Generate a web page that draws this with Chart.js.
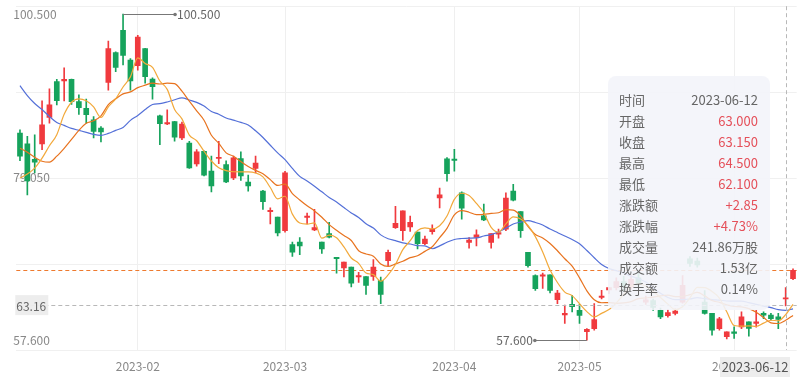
<!DOCTYPE html>
<html>
<head>
<meta charset="utf-8">
<script src="https://cdn.jsdelivr.net/npm/chart.js@4.4.0/dist/chart.umd.min.js"></script>
<style>
  html, body { margin: 0; padding: 0; background: #fff; }
  #wrap { width: 804px; height: 383px; }
</style>
</head>
<body>
<div id="wrap"><canvas id="kline" width="804" height="383"></canvas></div>
<script>
// trading days shown on the category axis
const janDays = [3, 4, 5, 6, 9, 10, 11, 12, 13, 16, 17, 18, 19, 20, 30, 31];
const febDays = [1, 2, 3, 6, 7, 8, 9, 10, 13, 14, 15, 16, 17, 20, 21, 22, 23, 24, 27, 28];
const marDays = [1, 2, 3, 6, 7, 8, 9, 10, 13, 14, 15, 16, 17, 20, 21, 22, 23, 24, 27, 28, 29, 30, 31];
const aprDays = [3, 4, 6, 7, 10, 11, 12, 13, 17, 18, 19, 20, 21, 24, 25, 27, 28];
const mayDays = [4, 5, 6, 8, 9, 10, 11, 12, 15, 16, 17, 18, 19, 22, 23, 24, 25, 26, 29, 30, 31];
const junDays = [1, 2, 5, 6, 7, 8, 9, 12, 13];

const openP = [
  84.85, 83.41, 81.40, 83.41, 86.89, 91.61, 91.70, 91.90, 88.99, 88.10,
  86.60, 85.50, 91.52, 95.44, 98.37, 94.44, 93.70, 95.96, 91.95, 87.12,
  86.05, 86.37, 84.20, 83.54, 80.79, 82.45, 79.83, 81.50, 80.70, 78.95,
  81.49, 78.40, 80.20, 77.22, 74.50, 73.80, 71.99, 70.15, 70.50, 73.75,
  72.10, 70.50, 71.60, 68.50, 67.10, 67.20, 65.90, 65.96, 65.97, 65.45,
  68.06, 72.40, 71.99, 72.50, 71.80, 70.30, 71.85, 76.30, 81.45, 81.40,
  76.99, 70.45, 71.10, 73.95, 70.45, 71.55, 72.20, 77.20, 74.50, 69.15,
  66.10, 66.00, 66.20, 62.90, 60.90, 62.30, 61.50, 58.70, 59.10, 63.20,
  64.20, 64.50, 65.30, 64.60, 65.80, 62.60, 62.80, 61.50, 60.80, 61.10,
  62.60, 68.30, 68.00, 62.60, 61.10, 59.10, 58.03, 58.68, 59.34, 59.99,
  59.78, 61.10, 60.87, 60.65, 63.00, 65.67
];
const closeP = [
  81.80, 78.53, 81.00, 85.94, 88.56, 89.12, 91.90, 88.99, 88.20, 87.25,
  85.07, 84.98, 95.95, 93.48, 95.07, 91.70, 97.49, 92.26, 90.95, 86.07,
  86.20, 84.30, 86.02, 80.27, 82.36, 79.30, 77.87, 81.60, 78.40, 81.57,
  79.20, 77.87, 80.90, 75.82, 74.60, 71.70, 79.60, 69.15, 70.00, 73.90,
  72.40, 69.60, 71.15, 68.30, 67.85, 65.10, 66.10, 64.80, 67.20, 63.60,
  69.15, 72.95, 74.60, 73.10, 70.30, 70.90, 72.20, 76.70, 79.50, 81.25,
  74.95, 70.75, 71.45, 73.40, 71.60, 71.75, 76.30, 76.00, 71.99, 67.40,
  64.35, 66.20, 64.14, 63.78, 61.10, 62.00, 60.85, 59.00, 60.30, 63.40,
  64.50, 65.30, 64.60, 65.60, 65.00, 62.90, 61.90, 60.65, 61.20, 61.40,
  64.80, 67.70, 67.50, 61.10, 58.90, 60.40, 58.68, 58.47, 60.65, 59.13,
  59.99, 60.87, 60.40, 60.30, 63.15, 66.76
];
const highP = [
  85.27, 84.40, 84.60, 89.08, 90.65, 91.90, 93.43, 91.95, 89.87, 89.30,
  87.00, 85.70, 96.94, 95.53, 100.50, 94.65, 97.71, 96.00, 92.10, 87.20,
  87.90, 86.40, 86.30, 83.76, 82.67, 82.50, 81.80, 83.76, 81.20, 81.80,
  82.36, 79.30, 81.80, 77.30, 75.00, 73.80, 79.80, 70.50, 71.10, 74.30,
  74.80, 70.50, 73.10, 68.50, 67.85, 67.20, 66.50, 65.96, 68.20, 65.90,
  69.45, 75.20, 74.60, 73.90, 71.80, 71.30, 72.75, 77.60, 81.60, 82.70,
  77.10, 71.10, 72.10, 75.50, 71.60, 72.20, 76.99, 78.10, 74.50, 69.15,
  66.20, 66.40, 66.20, 64.14, 62.20, 63.50, 62.30, 59.10, 62.40, 64.14,
  64.50, 65.80, 66.00, 66.20, 66.40, 63.40, 63.00, 61.80, 61.60, 61.70,
  66.10, 68.60, 68.40, 64.10, 61.10, 60.60, 58.68, 59.35, 61.30, 59.99,
  61.52, 61.30, 61.10, 61.10, 64.50, 66.98
];
const lowP = [
  81.22, 76.70, 79.60, 82.67, 86.15, 88.56, 89.08, 88.60, 87.30, 86.15,
  84.20, 83.67, 90.50, 92.91, 93.80, 90.50, 93.13, 91.40, 89.30, 83.30,
  85.95, 83.76, 83.96, 80.20, 80.50, 79.20, 77.10, 80.80, 78.30, 78.70,
  78.60, 77.20, 79.60, 74.80, 72.90, 71.30, 71.80, 68.60, 68.85, 72.90,
  71.99, 69.00, 71.05, 66.40, 65.90, 64.60, 65.20, 63.60, 65.45, 62.40,
  67.40, 72.30, 70.70, 71.90, 69.60, 70.15, 71.55, 75.00, 78.50, 79.83,
  73.50, 69.70, 70.00, 73.30, 69.70, 71.00, 72.00, 75.90, 71.10, 67.20,
  64.14, 64.40, 63.80, 62.40, 59.80, 61.30, 59.80, 57.60, 58.90, 63.00,
  63.70, 64.20, 64.00, 64.30, 64.60, 62.30, 61.50, 60.40, 60.60, 60.90,
  62.45, 67.30, 67.20, 61.00, 58.25, 58.90, 57.75, 57.80, 59.10, 58.10,
  59.30, 60.40, 60.20, 59.10, 62.10, 65.54
];

// moving-average values before a full window of closes is on screen
const ma5Head = [78.92, 79.44, 80.23, 81.54];
const ma10Head = [82.84, 82.32, 81.66, 81.14, 81.01, 81.80, 82.84, 84.02, 85.20];
const ma20Head = [91.08, 89.78, 88.73, 87.94, 87.03, 86.24, 85.85, 85.46, 85.20, 84.94,
  84.67, 84.54, 84.80, 85.20, 85.59, 86.51, 87.16, 87.94, 88.60];

const yLabelValues = [57.6, 79.05, 100.5];
const yMin = 56.29;
const yMax = 101.54;

const hoverIndex = 104;
const pointerValue = 62.2;
const pointerLabel = '63.16';

const tipLabels = ['时间', '开盘', '收盘', '最高', '最低', '涨跌额', '涨跌幅', '成交量', '成交额', '换手率'];
const tipValues = ['2023-06-12', '63.000', '63.150', '64.500', '62.100', '+2.85', '+4.73%', '241.86万股', '1.53亿', '0.14%'];

const upColor = '#f03a3e';
const downColor = '#16a35c';
const FONT = '"Noto Sans CJK SC", "Noto Sans", sans-serif';

const monthLists = [janDays, febDays, marDays, aprDays, mayDays, junDays];
const dates = [];
monthLists.forEach((days, m) => {
  days.forEach(d => dates.push('2023-' + String(m + 1).padStart(2, '0') + '-' + String(d).padStart(2, '0')));
});
const monthStart = new Set();
dates.forEach((d, i) => {
  if (i > 0 && d.slice(0, 7) !== dates[i - 1].slice(0, 7)) monthStart.add(i);
});

function movingAvg(n, head) {
  return closeP.map((_, i) => {
    if (i < n - 1) return head[i];
    let s = 0;
    for (let k = i - n + 1; k <= i; k++) s += closeP[k];
    return s / n;
  });
}

const candleColors = closeP.map((c, i) => (c >= openP[i] ? upColor : downColor));

const overlay = {
  id: 'overlay',
  beforeDatasetsDraw(chart) {
    const { ctx, chartArea: a, scales: { y } } = chart;
    const py = y.getPixelForValue(closeP[closeP.length - 1]);
    ctx.save();
    ctx.strokeStyle = '#ee7a2e';
    ctx.lineWidth = 1;
    ctx.setLineDash([4, 3]);
    ctx.beginPath();
    ctx.moveTo(a.left, Math.round(py) + 0.5);
    ctx.lineTo(a.right, Math.round(py) + 0.5);
    ctx.stroke();
    ctx.restore();
  },
  afterDatasetsDraw(chart) {
    const { ctx, chartArea: a, scales: { x, y } } = chart;
    ctx.save();
    // crosshair
    ctx.strokeStyle = '#b8b8b8';
    ctx.lineWidth = 1;
    ctx.setLineDash([4, 3]);
    const cx = Math.round(x.getPixelForValue(hoverIndex)) + 0.5;
    const cy = Math.round(y.getPixelForValue(pointerValue)) + 0.5;
    ctx.beginPath();
    ctx.moveTo(cx, a.top);
    ctx.lineTo(cx, a.bottom);
    ctx.moveTo(a.left, cy);
    ctx.lineTo(a.right, cy);
    ctx.stroke();
    ctx.setLineDash([]);

    // max / min mark points
    const hiIdx = highP.indexOf(Math.max(...highP));
    const loIdx = lowP.indexOf(Math.min(...lowP));
    const marks = [
      { idx: hiIdx, v: highP[hiIdx], dir: 1 },
      { idx: loIdx, v: lowP[loIdx], dir: -1 }
    ];
    ctx.strokeStyle = '#777';
    ctx.fillStyle = '#777';
    ctx.font = '12px ' + FONT;
    ctx.textBaseline = 'middle';
    marks.forEach(m => {
      const px = x.getPixelForValue(m.idx);
      const py = Math.round(y.getPixelForValue(m.v)) + 0.5;
      const ex = px + m.dir * 52;
      ctx.beginPath();
      ctx.moveTo(px, py);
      ctx.lineTo(ex, py);
      ctx.stroke();
      ctx.beginPath();
      ctx.arc(ex, py, 1.8, 0, Math.PI * 2);
      ctx.fill();
      ctx.fillStyle = '#666';
      ctx.textAlign = m.dir > 0 ? 'left' : 'right';
      ctx.fillText(m.v.toFixed(3), ex + m.dir * 2, py);
      ctx.fillStyle = '#777';
    });
    ctx.restore();
  },
  afterDraw(chart) {
    const { ctx, chartArea: a, scales: { x, y } } = chart;
    ctx.save();
    // pointer labels
    const cy = y.getPixelForValue(pointerValue);
    ctx.fillStyle = 'rgba(236,236,236,0.95)';
    ctx.fillRect(a.left - 1, cy - 10, 33, 20);
    ctx.fillStyle = '#666';
    ctx.font = '12px ' + FONT;
    ctx.textAlign = 'left';
    ctx.textBaseline = 'middle';
    ctx.fillText(pointerLabel, a.left, cy + 1);

    ctx.fillStyle = 'rgba(236,236,236,0.97)';
    ctx.fillRect(720, 357, 70, 20);
    ctx.fillStyle = '#555';
    ctx.font = '13px ' + FONT;
    ctx.textAlign = 'center';
    ctx.fillText(dates[hoverIndex], 755, 367);

    // tooltip box
    ctx.fillStyle = 'rgba(243,244,249,0.9)';
    ctx.beginPath();
    ctx.roundRect(608, 76, 162, 234, 8);
    ctx.fill();
    ctx.font = '13px ' + FONT;
    tipLabels.forEach((lab, i) => {
      const ty = 100 + i * 21;
      ctx.fillStyle = '#666';
      ctx.textAlign = 'left';
      ctx.fillText(lab, 619, ty);
      ctx.fillStyle = (i >= 1 && i <= 6) ? '#e5505a' : '#666';
      ctx.textAlign = 'right';
      ctx.fillText(tipValues[i], 758, ty);
    });
    ctx.restore();
  }
};

Chart.defaults.font.family = FONT;

new Chart(document.getElementById('kline'), {
  data: {
    labels: dates,
    datasets: [
      {
        type: 'line', label: 'MA5', data: movingAvg(5, ma5Head),
        borderColor: '#f2a93b', borderWidth: 1.2, pointRadius: 0,
        cubicInterpolationMode: 'monotone', order: 0
      },
      {
        type: 'line', label: 'MA10', data: movingAvg(10, ma10Head),
        borderColor: '#e8731f', borderWidth: 1.2, pointRadius: 0,
        cubicInterpolationMode: 'monotone', order: 0
      },
      {
        type: 'line', label: 'MA20', data: movingAvg(20, ma20Head),
        borderColor: '#5470d8', borderWidth: 1.2, pointRadius: 0,
        cubicInterpolationMode: 'monotone', order: 0
      },
      {
        type: 'bar', label: 'wick', data: lowP.map((l, i) => [l, highP[i]]),
        backgroundColor: candleColors, barThickness: 1, grouped: false, order: 2
      },
      {
        type: 'bar', label: 'body', data: openP.map((o, i) => [o, closeP[i]]),
        backgroundColor: candleColors, barThickness: 5, grouped: false,
        minBarLength: 1.2, order: 1
      }
    ]
  },
  options: {
    responsive: false,
    animation: false,
    devicePixelRatio: 1,
    events: [],
    layout: { padding: { left: 16.3, right: 7.3, top: 4, bottom: 0 } },
    plugins: { legend: { display: false }, tooltip: { enabled: false } },
    scales: {
      x: {
        type: 'category',
        offset: true,
        grid: {
          offset: false,
          drawTicks: false,
          color: c => (monthStart.has(c.index) ? '#efefef' : 'rgba(0,0,0,0)')
        },
        border: { display: false },
        ticks: {
          autoSkip: false,
          maxRotation: 0,
          padding: 9,
          color: '#888',
          font: { size: 12 },
          callback: (v, i) => (monthStart.has(i) ? dates[i].slice(0, 7) : '')
        },
        afterFit: s => { s.height = 33; }
      },
      y: {
        position: 'left',
        min: yMin,
        max: yMax,
        afterBuildTicks: s => {
          s.ticks = [0, 1, 2, 3, 4].map(k => ({ value: yMin + k * (yMax - yMin) / 4 }));
        },
        grid: { color: '#f0f0f0', drawTicks: false },
        border: { display: false },
        ticks: { display: false }
      },
      yLabels: {
        position: 'left',
        min: yMin,
        max: yMax,
        afterBuildTicks: s => { s.ticks = yLabelValues.map(v => ({ value: v })); },
        grid: { display: false, drawTicks: false },
        border: { display: false },
        ticks: {
          mirror: true,
          padding: -1,
          color: '#888',
          font: { size: 12 },
          callback: v => Number(v).toFixed(3)
        }
      }
    }
  },
  plugins: [overlay]
});
</script>
</body>
</html>
